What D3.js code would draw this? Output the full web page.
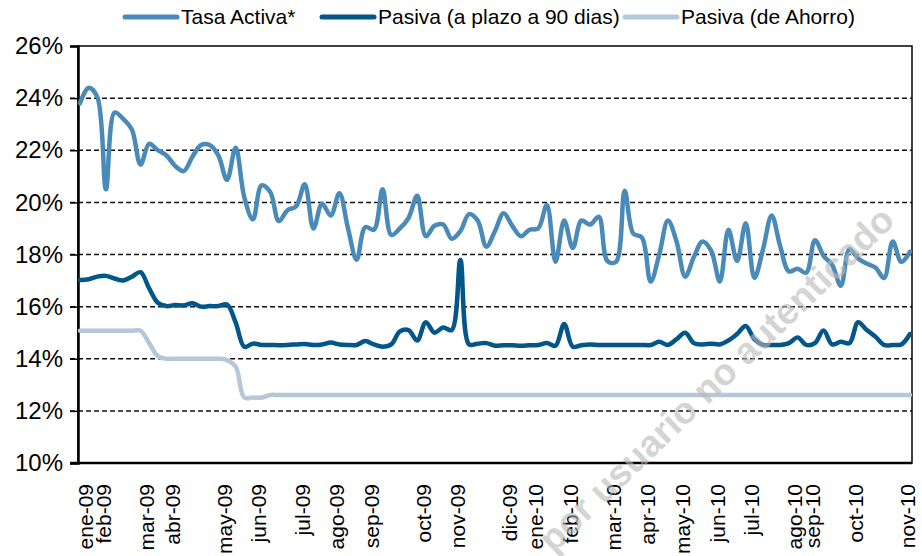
<!DOCTYPE html>
<html>
<head>
<meta charset="utf-8">
<script src="https://cdn.jsdelivr.net/npm/d3@7"></script>
<style>
  body { margin: 0; background: #fff; }
  svg text { font-family: "Liberation Sans", Arial, sans-serif; fill: #000; }
</style>
</head>
<body>
<div id="chart"></div>
<script>
// weekly series, ene-09 .. nov-10
const activa = [
  23.80, 24.40, 24.05, 20.50, 23.45, 23.20, 22.80, 21.45, 22.25, 22.00,
  21.80, 21.40, 21.20, 21.75, 22.20, 22.20, 21.80, 20.86, 22.10, 20.20,
  19.35, 20.65, 20.40, 19.28, 19.70, 19.85, 20.70, 19.00, 19.95, 19.50,
  20.35, 19.00, 17.80, 19.05, 18.95, 20.50, 18.75, 19.00, 19.40, 20.25,
  18.70, 19.10, 19.15, 18.60, 18.90, 19.55, 19.30, 18.30, 18.90, 19.58,
  19.10, 18.70, 18.95, 19.00, 19.90, 17.72, 19.30, 18.25, 19.30, 19.15,
  19.45, 17.75, 17.72, 20.45, 18.80, 18.65, 16.96, 18.00, 19.30, 18.50,
  17.15, 17.90, 18.50, 18.15, 16.96, 18.95, 17.75, 19.20, 17.10, 18.20,
  19.50, 18.30, 17.35, 17.45, 17.30, 18.55, 17.95, 17.60, 16.80, 18.20,
  17.85, 17.65, 17.50, 17.10, 18.50, 17.72, 18.10
];
const pasiva90 = [
  17.02, 17.05, 17.15, 17.18, 17.08, 17.00, 17.15, 17.32, 16.70, 16.15,
  16.02, 16.06, 16.05, 16.13, 16.00, 16.02, 16.02, 16.08, 15.40, 14.46,
  14.58, 14.53, 14.53, 14.52, 14.53, 14.55, 14.57, 14.53, 14.55, 14.62,
  14.55, 14.53, 14.53, 14.68, 14.55, 14.46, 14.55, 15.05, 15.10, 14.70,
  15.40, 15.00, 15.20, 15.10, 17.79, 14.55, 14.58, 14.60, 14.50, 14.52,
  14.52, 14.50, 14.52, 14.53, 14.60, 14.50, 15.33, 14.46, 14.52, 14.55,
  14.53, 14.53, 14.53, 14.53, 14.53, 14.53, 14.53, 14.65, 14.53, 14.75,
  15.00, 14.60, 14.55, 14.58, 14.55, 14.70, 14.95, 15.26, 14.75, 14.53,
  14.53, 14.53, 14.60, 14.82, 14.53, 14.60, 15.08, 14.55, 14.65, 14.60,
  15.40, 15.10, 14.85, 14.53, 14.53, 14.55, 14.95
];
const ahorro = [
  15.07, 15.07, 15.07, 15.07, 15.07, 15.07, 15.07, 15.07, 14.60, 14.10,
  14.00, 14.00, 14.00, 14.00, 14.00, 14.00, 14.00, 13.95, 13.70, 12.51,
  12.51, 12.51, 12.61, 12.61, 12.61, 12.61, 12.61, 12.61, 12.61, 12.61,
  12.61, 12.61, 12.61, 12.61, 12.61, 12.61, 12.61, 12.61, 12.61, 12.61,
  12.61, 12.61, 12.61, 12.61, 12.61, 12.61, 12.61, 12.61, 12.61, 12.61,
  12.61, 12.61, 12.61, 12.61, 12.61, 12.61, 12.61, 12.61, 12.61, 12.61,
  12.61, 12.61, 12.61, 12.61, 12.61, 12.61, 12.61, 12.61, 12.61, 12.61,
  12.61, 12.61, 12.61, 12.61, 12.61, 12.61, 12.61, 12.61, 12.61, 12.61,
  12.61, 12.61, 12.61, 12.61, 12.61, 12.61, 12.61, 12.61, 12.61, 12.61,
  12.61, 12.61, 12.61, 12.61, 12.61, 12.61, 12.61
];

// month labels and the week index they sit on
const monthLabels = ["ene-09","feb-09","mar-09","abr-09","may-09","jun-09","jul-09","ago-09","sep-09","oct-09","nov-09",
                     "dic-09","ene-10","feb-10","mar-10","apr-10","may-10","jun-10","jul-10","ago-10","sep-10","oct-10","nov-10"];
const monthIdx = [0, 2, 7, 10, 16, 20, 25, 29, 33, 39, 43, 49, 52, 56, 61, 65, 69, 73, 77, 82, 84, 89, 95];

const yTicks = [10, 12, 14, 16, 18, 20, 22, 24, 26];

const seriesNames = ["Tasa Activa*", "Pasiva (a plazo a 90 dias)", "Pasiva (de Ahorro)"];
const seriesColors = ["#4a8ab9", "#02568a", "#b4c8d9"];

const width = 922, height = 556;
const plotLeft = 78, plotRight = 912, plotTop = 46, plotBottom = 463;

const svg = d3.select("#chart").append("svg")
    .attr("width", width)
    .attr("height", height);

const x = d3.scaleLinear().domain([0, activa.length - 1]).range([80, 910]);
const y = d3.scaleLinear().domain([10, 26]).range([plotBottom, plotTop]);

// gridlines (dashed)
svg.append("g")
    .selectAll("line")
    .data(yTicks.filter(t => t > 10 && t < 26))
    .enter().append("line")
    .attr("x1", plotLeft - 8).attr("x2", plotRight)
    .attr("y1", d => y(d)).attr("y2", d => y(d))
    .attr("stroke", "#111")
    .attr("stroke-width", 1.5)
    .attr("stroke-dasharray", "5,3");

// plot border
svg.append("rect")
    .attr("x", plotLeft).attr("y", plotTop)
    .attr("width", plotRight - plotLeft).attr("height", plotBottom - plotTop)
    .attr("fill", "none")
    .attr("stroke", "#000")
    .attr("stroke-width", 1.5);

// y axis
const yAxis = svg.append("g")
    .attr("transform", `translate(${plotLeft},0)`)
    .call(d3.axisLeft(y).tickValues(yTicks).tickSize(8).tickFormat(d => d + "%"));
yAxis.select(".domain").attr("stroke-width", 2.5);
yAxis.selectAll(".tick line").attr("stroke-width", 1.5);
yAxis.selectAll(".tick text")
    .attr("x", -15)
    .style("font-size", "24px");

// bottom axis line
svg.append("line")
    .attr("x1", plotLeft - 8).attr("x2", plotRight)
    .attr("y1", plotBottom).attr("y2", plotBottom)
    .attr("stroke", "#000").attr("stroke-width", 2.5);

// x labels, rotated
svg.append("g")
    .selectAll("text")
    .data(monthLabels)
    .enter().append("text")
    .attr("transform", (d, i) => `translate(${x(monthIdx[i]) + 6},484) rotate(-90)`)
    .attr("text-anchor", "end")
    .attr("dy", "0.35em")
    .style("font-size", "21px")
    .text(d => d);

// lines
const line = d3.line()
    .x((d, i) => x(i))
    .y(d => y(d))
    .curve(d3.curveCatmullRom.alpha(0.5));

const allSeries = [activa, pasiva90, ahorro];
const drawOrder = [2, 1, 0];
drawOrder.forEach(k => {
    svg.append("path")
        .datum(allSeries[k])
        .attr("d", line)
        .attr("fill", "none")
        .attr("stroke", seriesColors[k])
        .attr("stroke-width", 4.5)
        .attr("stroke-linejoin", "round")
        .attr("stroke-linecap", "round");
});

// legend
const legendX = [125, 322, 625];
const legend = svg.append("g");
seriesNames.forEach((name, i) => {
    legend.append("line")
        .attr("x1", legendX[i]).attr("x2", legendX[i] + 52)
        .attr("y1", 17).attr("y2", 17)
        .attr("stroke", seriesColors[i])
        .attr("stroke-width", 5)
        .attr("stroke-linecap", "round");
    legend.append("text")
        .attr("x", legendX[i] + 56)
        .attr("y", 17)
        .attr("dy", "0.35em")
        .style("font-size", "21px")
        .text(name);
});

// watermark
svg.append("text")
    .attr("transform", "translate(716,379) rotate(-44)")
    .attr("text-anchor", "middle")
    .attr("dy", "0.35em")
    .style("font-size", "37px")
    .style("font-weight", "bold")
    .style("fill", "#b8b8b8")
    .style("opacity", 0.6)
    .text("por usuario no autenticado");
</script>
</body>
</html>
